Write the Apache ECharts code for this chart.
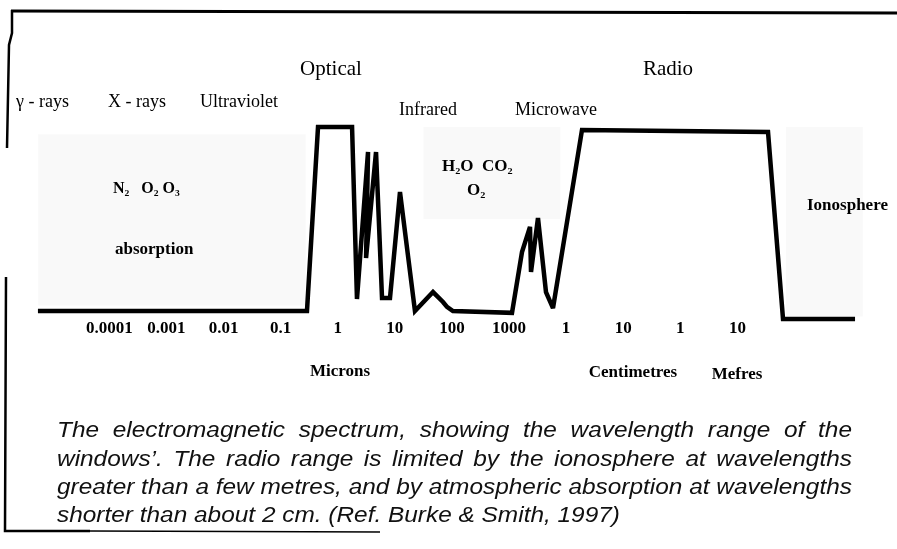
<!DOCTYPE html>
<html>
<head>
<meta charset="utf-8">
<script src="https://cdn.jsdelivr.net/npm/echarts@6/dist/echarts.min.js"></script>
<style>
  html, body { margin: 0; padding: 0; background: #fff; }
  #main { width: 897px; height: 549px; }
</style>
</head>
<body>
<div id="main"></div>
<script>
// atmospheric window
// wavelength in microns, transmission in %
var wavelengthUm = [5.6e-6, 0.289, 0.451, 1.78, 2.17, 3.39, 3.13, 4.68, 5.96, 8.22, 12.3, 22.5, 46.6, 69.7, 81.9, 104,
                    1127, 1687, 2330, 2427, 3214, 4440, 5890, 18970, 3.44e7, 6.30e7, 1.15e9];
var transmission = [0, 0, 100, 100, 6.5, 86.4, 28.8, 86.4, 7.1, 7.1, 64.7, 0, 10.3, 4.9, 2.2, 0,
                    -1, 32, 45.7, 21.2, 50.5, 10.3, 1.6, 98.4, 97.3, -4.3, -4.3];

// axis ticks: log10 of wavelength in microns, and the label printed there
var tickExps = [-4, -3, -2, -1, 0, 1, 2, 3, 4, 5, 6, 7];
var tickLabels = ['0.0001', '0.001', '0.01', '0.1', '1', '10', '100', '1000', '1', '10', '1', '10'];

var captionLines = [
    'The electromagnetic spectrum, showing the wavelength range of the',
    'windows\u2019. The radio range is limited by the ionosphere at wavelengths',
    'greater than a few metres, and by atmospheric absorption at wavelengths',
    'shorter than about 2 cm. (Ref. Burke & Smith, 1997)'
];

var labelMap = {};
tickExps.forEach(function (e, i) { labelMap[e] = tickLabels[i]; });

var seriesData = wavelengthUm.map(function (w, i) {
    return [Math.log10(w), transmission[i]];
});

var myChart = echarts.init(document.getElementById('main'));

var serif = '"Liberation Serif", "Times New Roman", serif';

function txt(text, x, y, size, bold, align) {
    return {
        type: 'text',
        x: x,
        y: y,
        style: {
            text: text,
            fill: '#000',
            font: (bold ? 'bold ' : '') + size + 'px ' + serif,
            textAlign: align || 'left',
            align: align || 'left',
            textVerticalAlign: 'middle',
            verticalAlign: 'middle'
        }
    };
}

// caption, justified like the printed block (narrow face if there is one)
var capFont = 'italic 22px "Liberation Sans Narrow", "Liberation Sans", Arial, sans-serif';
var ctx = document.createElement('canvas').getContext('2d');
ctx.font = capFont;
var capLeft = 57, capRight = 852;
var capBase = [438, 467, 495, 523];
var sx = (capRight - capLeft) / ctx.measureText(captionLines[2]).width;
var spaceW = ctx.measureText(' ').width * sx;
var captionEls = [];
captionLines.forEach(function (line, li) {
    var words = line.split(' ');
    var ws = words.map(function (w) { return ctx.measureText(w).width * sx; });
    var sum = ws.reduce(function (a, b) { return a + b; }, 0);
    var gap = li < 3 ? (capRight - capLeft - sum) / (words.length - 1) : spaceW;
    var x = capLeft;
    words.forEach(function (w, i) {
        captionEls.push({
            type: 'text',
            x: x,
            y: capBase[li] - 7.6,
            scaleX: sx,
            style: {
                text: w,
                fill: '#111',
                font: capFont,
                textVerticalAlign: 'middle',
                verticalAlign: 'middle'
            }
        });
        x += ws[i] + gap;
    });
});

var frame = [
    { type: 'polyline', shape: { points: [[11, 11], [897, 13]] }, style: { stroke: '#000', lineWidth: 3, fill: null } },
    { type: 'polyline', shape: { points: [[12, 10], [12, 33], [9, 45], [7, 148]] }, style: { stroke: '#000', lineWidth: 2.5, fill: null } },
    { type: 'polyline', shape: { points: [[6, 277], [5, 531], [90, 531]] }, style: { stroke: '#000', lineWidth: 2.5, fill: null } },
    { type: 'polyline', shape: { points: [[90, 531], [380, 532]] }, style: { stroke: '#000', lineWidth: 1.5, fill: null } }
];

var labels = [
    txt('Optical', 331, 69, 21, false, 'center'),
    txt('Radio', 668, 69, 21, false, 'center'),
    txt('\u03b3 - rays', 16, 102, 18),
    txt('X - rays', 108, 102, 18),
    txt('Ultraviolet', 200, 102, 18),
    txt('Infrared', 399, 110, 18),
    txt('Microwave', 515, 110, 18),
    txt('N\u2082   O\u2082 O\u2083', 113, 189, 16, true),
    txt('absorption', 115, 250, 17, true),
    txt('H\u2082O  CO\u2082', 442, 167, 17, true),
    txt('O\u2082', 467, 191, 17, true),
    txt('Ionosphere', 807, 206, 17, true),
    txt('Microns', 340, 372, 17, true, 'center'),
    txt('Centimetres', 633, 373, 17, true, 'center'),
    txt('Mefres', 737, 375, 17, true, 'center')
];

var option = {
    backgroundColor: '#fff',
    animation: false,
    grid: {
        left: -4.78,
        right: -11.66,
        top: 127,
        bottom: 228.8,
        containLabel: false,
        outerBoundsMode: 'none'
    },
    xAxis: {
        type: 'value',
        min: -6,
        max: 10,
        interval: 1,
        axisLine: { show: false },
        axisTick: { show: false },
        splitLine: { show: false },
        axisLabel: {
            interval: 0,
            margin: 0,
            color: '#000',
            fontFamily: serif,
            fontWeight: 'bold',
            fontSize: 17,
            formatter: function (v) {
                var k = Math.round(v);
                return labelMap[k] !== undefined ? labelMap[k] : '';
            }
        }
    },
    yAxis: {
        type: 'value',
        min: -5,
        max: 100,
        show: false,
        splitLine: { show: false }
    },
    series: [
        {
            type: 'line',
            data: seriesData,
            symbol: 'none',
            clip: false,
            lineStyle: { color: '#000', width: 4.5, join: 'miter', miterLimit: 3 },
            markArea: {
                silent: true,
                itemStyle: { color: 'rgba(0,0,0,0.022)' },
                data: [
                    [{ coord: [-5.25, 3] }, { coord: [-0.56, 96] }],
                    [{ coord: [1.5, 50] }, { coord: [3.9, 100] }],
                    [{ coord: [7.85, -3] }, { coord: [9.2, 100] }]
                ]
            }
        }
    ],
    graphic: frame.concat(labels).concat(captionEls)
};

myChart.setOption(option);
</script>
</body>
</html>
